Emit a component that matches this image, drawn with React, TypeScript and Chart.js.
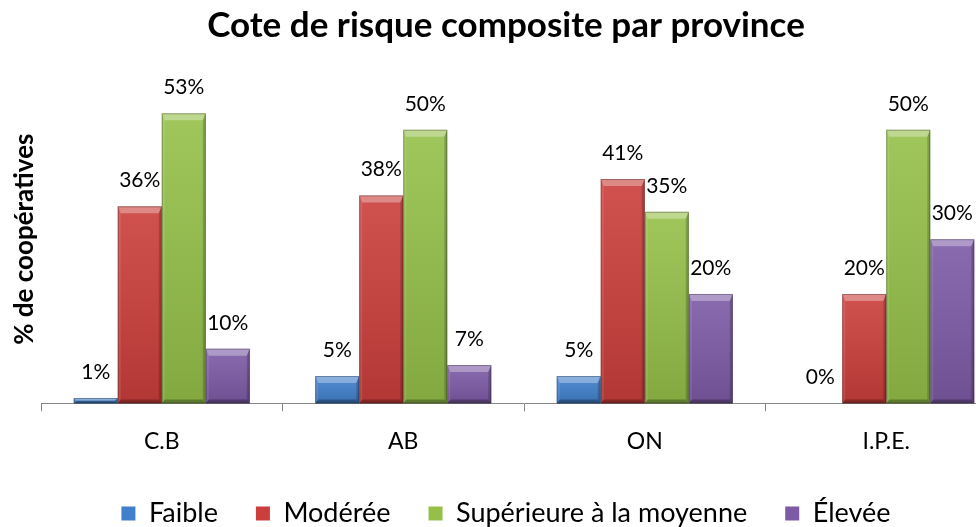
import React, { useEffect, useRef } from "react";
import { Chart, registerables } from "chart.js";

Chart.register(...registerables);

const categories = ["C.B", "AB", "ON", "I.P.E."];
const seriesNames = ["Faible", "Modérée", "Supérieure à la moyenne", "Élevée"];
const faible = [1, 5, 5, 0];
const moderee = [36, 38, 41, 20];
const superieure = [53, 50, 35, 50];
const elevee = [10, 7, 20, 30];
const seriesColors = ["#3F7FCB", "#CB3E3B", "#94C048", "#7C5AA6"];
const yMax = 60;

const FONT = "Lato, 'Open Sans', sans-serif";

function poly(ctx: CanvasRenderingContext2D, pts: number[][], fill: string) {
  ctx.beginPath();
  ctx.moveTo(pts[0][0], pts[0][1]);
  for (let i = 1; i < pts.length; i++) ctx.lineTo(pts[i][0], pts[i][1]);
  ctx.closePath();
  ctx.fillStyle = fill;
  ctx.fill();
}

const bevelPlugin = {
  id: "bevel",
  afterDatasetsDraw(chart: any) {
    const ctx: CanvasRenderingContext2D = chart.ctx;
    chart.data.datasets.forEach((_ds: any, di: number) => {
      const meta = chart.getDatasetMeta(di);
      meta.data.forEach((el: any) => {
        const p = el.getProps(["x", "y", "base", "width"], true);
        const l = p.x - p.width / 2;
        const r = p.x + p.width / 2;
        const t = Math.min(p.y, p.base);
        const b = Math.max(p.y, p.base);
        const h = b - t;
        if (h < 0.5) return;
        const bt = Math.min(7, h / 2);
        const bb = Math.min(4, h / 2);
        const bs = Math.min(3, p.width / 2);
        ctx.save();
        const g = ctx.createLinearGradient(0, t, 0, b);
        g.addColorStop(0, "rgba(255,255,255,0.10)");
        g.addColorStop(1, "rgba(0,0,0,0.12)");
        ctx.fillStyle = g;
        ctx.fillRect(l, t, p.width, h);
        poly(ctx, [[l, t], [r, t], [r - bs, t + bt], [l + bs, t + bt]], "rgba(255,255,255,0.32)");
        poly(ctx, [[r, t], [r, b], [r - bs, b - bb], [r - bs, t + bt]], "rgba(0,0,0,0.18)");
        poly(ctx, [[l, b], [r, b], [r - bs, b - bb], [l + bs, b - bb]], "rgba(0,0,0,0.28)");
        poly(ctx, [[l, t], [l + bs, t + bt], [l + bs, b - bb], [l, b]], "rgba(255,255,255,0.10)");
        ctx.strokeStyle = "rgba(0,0,0,0.28)";
        ctx.lineWidth = 1;
        ctx.strokeRect(l + 0.5, t + 0.5, p.width - 1, h - 1);
        ctx.restore();
      });
    });
  },
};

const labelPlugin = {
  id: "valueLabels",
  afterDatasetsDraw(chart: any) {
    const ctx: CanvasRenderingContext2D = chart.ctx;
    ctx.save();
    ctx.font = `21px ${FONT}`;
    ctx.fillStyle = "#000";
    ctx.textAlign = "center";
    ctx.textBaseline = "alphabetic";
    chart.data.datasets.forEach((ds: any, di: number) => {
      const meta = chart.getDatasetMeta(di);
      meta.data.forEach((el: any, i: number) => {
        const p = el.getProps(["x", "y"], true);
        ctx.fillText(`${ds.data[i]}%`, p.x, p.y - 19);
      });
    });
    ctx.restore();
  },
};

export default function App() {
  const canvasRef = useRef<HTMLCanvasElement | null>(null);

  useEffect(() => {
    const canvas = canvasRef.current;
    if (!canvas) return;
    const values = [faible, moderee, superieure, elevee];
    const chart = new Chart(canvas, {
      type: "bar",
      data: {
        labels: categories,
        datasets: seriesNames.map((name, i) => ({
          label: name,
          data: values[i],
          backgroundColor: seriesColors[i],
          borderWidth: 0,
          categoryPercentage: 0.729,
          barPercentage: 1.0,
        })),
      },
      options: {
        responsive: false,
        animation: false,
        devicePixelRatio: 1,
        layout: { padding: { left: 5, right: 3, top: 5, bottom: -10 } },
        plugins: {
          title: {
            display: true,
            text: "Cote de risque composite par province",
            font: { family: FONT, size: 35, weight: "bold" },
            color: "#000",
            padding: { top: 0, bottom: 28 },
          },
          legend: {
            position: "bottom",
            labels: {
              font: { family: FONT, size: 27 },
              color: "#000",
              boxWidth: 14,
              boxHeight: 14,
              padding: 38,
            },
          },
          tooltip: { enabled: false },
        },
        scales: {
          x: {
            grid: {
              display: true,
              drawOnChartArea: false,
              drawTicks: true,
              tickLength: 8,
              offset: true,
              color: "#868686",
            },
            border: { display: true, color: "#868686", width: 1 },
            ticks: { font: { family: FONT, size: 23 }, color: "#000", padding: 16 },
            afterFit: (scale: any) => {
              scale.height = 58.6;
            },
          },
          y: {
            min: 0,
            max: yMax,
            grid: { display: false },
            border: { display: false },
            ticks: { display: false },
            afterFit: (scale: any) => {
              scale.width = 36;
            },
            title: {
              display: true,
              text: "% de coopératives",
              font: { family: FONT, size: 26, weight: "bold" },
              color: "#000",
              padding: { top: 4, bottom: 4 },
            },
          },
        },
      },
      plugins: [bevelPlugin, labelPlugin],
    } as any);
    return () => chart.destroy();
  }, []);

  return (
    <div
      style={{
        position: "fixed",
        left: 0,
        top: 0,
        width: 976,
        height: 527,
        overflow: "hidden",
        background: "#fff",
      }}
    >
      <canvas
        ref={canvasRef}
        width={1010}
        height={527}
        style={{ display: "block", width: "1010px", height: "527px" }}
      />
    </div>
  );
}
